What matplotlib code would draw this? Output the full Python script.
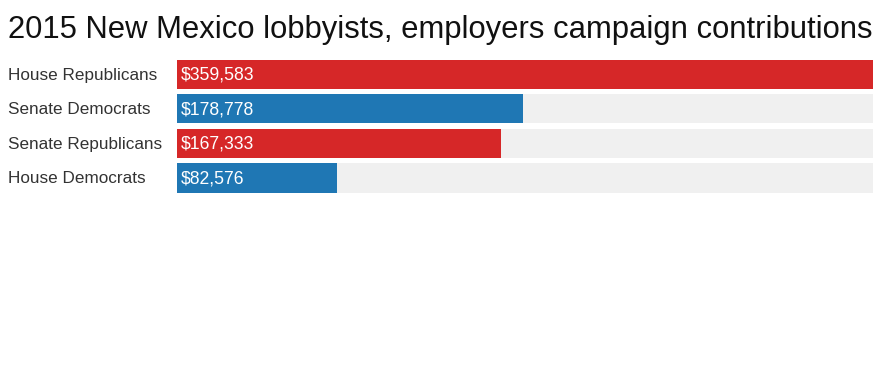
import matplotlib
matplotlib.use("Agg")
import matplotlib.pyplot as plt
from matplotlib.transforms import blended_transform_factory

groups = ["House Republicans", "Senate Democrats", "Senate Republicans", "House Democrats"]
amounts = [359583, 178778, 167333, 82576]
parties = ["R", "D", "R", "D"]
title = "2015 New Mexico lobbyists, employers campaign contributions"

colors = {"R": "#d62728", "D": "#1f77b4"}
plt.rcParams["font.family"] = ["Liberation Sans", "DejaVu Sans"]

fig = plt.figure(figsize=(8.8, 3.75), dpi=100)
ax = fig.add_axes([177 / 880, 1 - 192.5 / 375, 696 / 880, 133 / 375])

ypos = list(range(len(groups)))
top = max(amounts)
ax.barh(ypos, [top] * len(groups), height=0.84, color="#f0f0f0")
ax.barh(ypos, amounts, height=0.84, color=[colors[p] for p in parties])

lab_tr = blended_transform_factory(fig.transFigure, ax.transData)
for y, g, v in zip(ypos, groups, amounts):
    ax.text(top * 0.006, y + 0.03, "${:,}".format(v), color="white", fontsize=12.7,
            va="center", ha="left")
    ax.text(8 / 880, y + 0.03, g, transform=lab_tr, fontsize=12.3, color="#333333",
            va="center", ha="left")

ax.set_xlim(0, top)
ax.set_ylim(len(groups) - 0.58, -0.42)
ax.set_xticks([])
ax.set_yticks([])
for s in ax.spines.values():
    s.set_visible(False)

fig.text(8 / 880, 1 - 38 / 375, title, fontsize=22.3, color="#111111",
         ha="left", va="baseline")

fig.savefig("out.png", dpi=100)
